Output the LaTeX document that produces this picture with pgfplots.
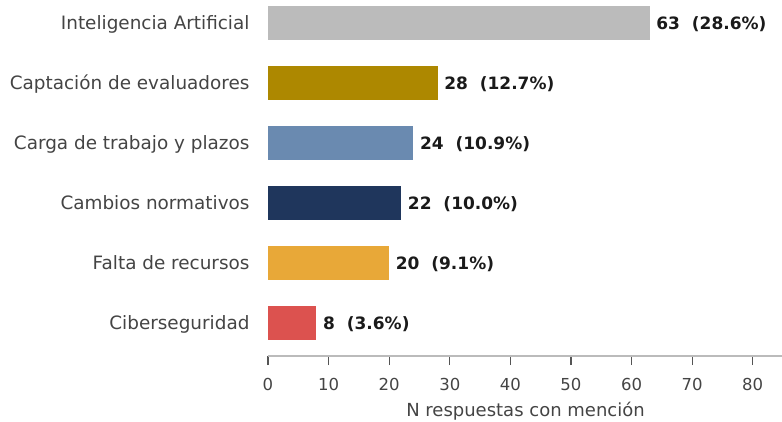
\documentclass[border=0pt]{standalone}
\usepackage{fontspec}
\setmainfont{DejaVu Sans}
\usepackage{pgfplots}
\pgfplotsset{compat=1.18}
\definecolor{cIA}{HTML}{BBBBBB}
\definecolor{cCap}{HTML}{AD8800}
\definecolor{cCar}{HTML}{6A8AB0}
\definecolor{cCam}{HTML}{1F365C}
\definecolor{cFal}{HTML}{E8A838}
\definecolor{cCib}{HTML}{DC524F}
\definecolor{cAxis}{HTML}{BBBBBB}
\definecolor{cTick}{HTML}{555555}
\definecolor{cText}{HTML}{444444}
\definecolor{cLab}{HTML}{1A1A1A}
\begin{document}
\begin{tikzpicture}
\begin{axis}[
  at={(0,0)}, anchor=south west,
  scale only axis, width=515pt, height=356pt,
  xmin=0, xmax=85, ymin=-0.55, ymax=5.383,
  xbar, bar width=34pt, bar shift=0pt,
  axis x line*=bottom, axis y line*=left,
  y axis line style={draw=none},
  x axis line style={draw=cAxis, line width=1.5pt, -},
  xtick={0,10,...,80},
  ytick={0,1,2,3,4,5},
  yticklabels={Ciberseguridad, Falta de recursos, Cambios normativos, Carga de trabajo y plazos, Captación de evaluadores, Inteligencia Artificial},
  tick align=outside,
  major tick length=9pt,
  xtick style={draw=cTick, line width=1.2pt},
  ytick style={draw=none},
  /pgf/number format/assume math mode=true,
  xticklabel style={font=\fontsize{16.5}{19}\selectfont, text=cText, yshift=-10pt},
  yticklabel style={font=\fontsize{18.4}{21}\selectfont, text=cText, anchor=base east, yshift=-6.6pt, xshift=-6pt},
  xlabel={N respuestas con mención},
  xlabel style={font=\fontsize{18}{21}\selectfont, text=cText, at={(axis description cs:0.5,0)}, anchor=base, yshift=-60pt},
  point meta=explicit symbolic,
  nodes near coords,
  nodes near coords style={font=\bfseries\fontsize{17}{20}\selectfont, text=cLab, anchor=west, inner sep=0pt, xshift=6.5pt, yshift=-1pt},
  clip=false,
]
\addplot[draw=none, fill=cCib] coordinates {(8,0) [8\ \ (3.6\%)]};
\addplot[draw=none, fill=cFal] coordinates {(20,1) [20\ \ (9.1\%)]};
\addplot[draw=none, fill=cCam] coordinates {(22,2) [22\ \ (10.0\%)]};
\addplot[draw=none, fill=cCar] coordinates {(24,3) [24\ \ (10.9\%)]};
\addplot[draw=none, fill=cCap] coordinates {(28,4) [28\ \ (12.7\%)]};
\addplot[draw=none, fill=cIA] coordinates {(63,5) [63\ \ (28.6\%)]};
\end{axis}
\pgfresetboundingbox
\path (-268pt,-65pt) rectangle (514pt,356pt);
\end{tikzpicture}
\end{document}
